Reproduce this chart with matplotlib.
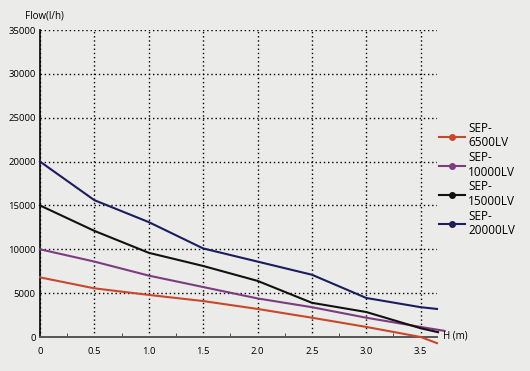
import matplotlib.pyplot as plt
from matplotlib.lines import Line2D
from matplotlib.ticker import MultipleLocator

plt.rcParams['font.family'] = ['Open Sans', 'DejaVu Sans']

# head (m)
h = [0, 0.5, 1.0, 1.5, 2.0, 2.5, 3.0, 3.5]

sep6500_h = h + [3.65]
sep6500 = [6800, 5550, 4800, 4100, 3200, 2200, 1150, 0, -700]

sep10000_h = h + [3.72]
sep10000 = [10000, 8600, 7000, 5700, 4400, 3400, 2200, 1150, 700]

sep15000_h = h + [3.66]
sep15000 = [15000, 12100, 9600, 8100, 6400, 3900, 2850, 1000, 550]

sep20000_h = h + [3.65]
sep20000 = [20000, 15600, 13100, 10100, 8600, 7100, 4450, 3400, 3200]

labels = ['SEP-\n6500LV', 'SEP-\n10000LV', 'SEP-\n15000LV', 'SEP-\n20000LV']
colors = ['#c9472b', '#7d3b80', '#111111', '#1c1c5e']

bg = '#ebebe9'
fig = plt.figure(figsize=(5.30, 3.71), dpi=100, facecolor=bg)
ax = fig.add_axes([0.0755, 0.0916, 0.749, 0.8275], facecolor=bg)

series = [(sep6500_h, sep6500), (sep10000_h, sep10000),
          (sep15000_h, sep15000), (sep20000_h, sep20000)]
for (xs, ys), c in zip(series, colors):
    ax.plot(xs, ys, color=c, linewidth=1.5, clip_on=False, zorder=3)

ax.set_xlim(0, 3.65)
ax.set_ylim(0, 35000)
ax.set_xticks(h)
ax.set_xticklabels(['0', '0.5', '1.0', '1.5', '2.0', '2.5', '3.0', '3.5'])
ax.xaxis.set_minor_locator(MultipleLocator(0.25))
ax.set_yticks(range(0, 35001, 5000))
ax.grid(True, which='major', color='black', linestyle=(0, (1, 2)), linewidth=1.0)
ax.tick_params(axis='both', which='major', labelsize=6.8, length=0, pad=3)
ax.tick_params(axis='x', which='minor', direction='in', length=3, color='#333333')
ax.tick_params(axis='x', which='major', direction='in', length=0, pad=7)

for s in ['top', 'right']:
    ax.spines[s].set_visible(False)
ax.spines['left'].set_color('black')
ax.spines['left'].set_linewidth(1.2)
ax.spines['bottom'].set_color('#555555')
ax.spines['bottom'].set_linewidth(1.4)

fig.text(0.047, 0.958, 'Flow(l/h)', fontsize=7, ha='left', va='center')
fig.text(0.835, 0.093, 'H (m)', fontsize=7, ha='left', va='center')

handles = [Line2D([0], [0], color=c, marker='o', markersize=4, linewidth=1.5)
           for c in colors]
leg = fig.legend(handles, labels, loc='upper left', bbox_to_anchor=(0.808, 0.70),
                 frameon=False, fontsize=8.5, handlelength=2.2, handletextpad=0.3,
                 labelspacing=0.15)
for t in leg.get_texts():
    t.set_linespacing(1.15)

fig.savefig('out.png', dpi=100, facecolor=bg)
